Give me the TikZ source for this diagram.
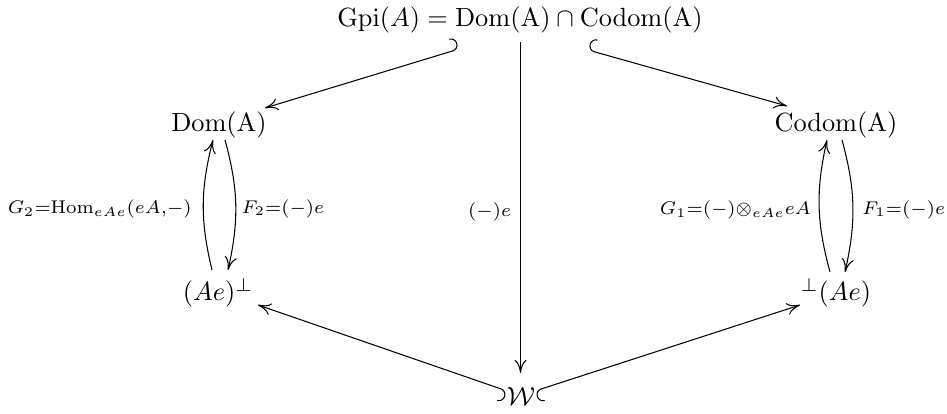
\documentclass[tikz,border=0pt]{standalone}
\usetikzlibrary{arrows.meta}
\begin{document}
\begin{tikzpicture}[x=0.38pt,y=-0.38pt,
  obj/.style={inner sep=0pt, anchor=base},
  tipa/.tip={Computer Modern Rightarrow[length=5pt,width=4.6pt]},
  mor/.style={-tipa},
  hk/.style={{Hooks[right,length=2.4pt,width=9.6pt]}-tipa},
  hkp/.style={{Hooks[left,length=2.4pt,width=9.6pt]}-tipa},
  lbl/.style={inner ysep=0pt, yshift=-1.5pt}]
\useasboundingbox (0,0) rectangle (947,414);
\node[obj] (top) at (520,27) {$\mathrm{Gpi}(A)=\mathrm{Dom(A)}\cap\mathrm{Codom(A)}$};
\node[obj] (dom) at (219,132) {$\mathrm{Dom(A)}$};
\node[obj] (cod) at (836,132) {$\mathrm{Codom(A)}$};
\node[obj] (aep) at (218,301) {$(Ae)^{\perp}$};
\node[obj] (pae) at (836,301) {${}^{\perp}(Ae)$};
\node[obj] (w) at (521,406) {$\mathcal{W}$};
% top arrows
\draw[hkp] ([shift={(-61,22)}]top.base) -- ([shift={(46,-24)}]dom.base);
\draw[hk] ([shift={(68,23)}]top.base) -- ([shift={(-49,-26)}]cod.base);
\draw[mor] ([shift={(0.5,15)}]top.base) -- node[lbl, anchor=east, inner xsep=3.4pt] {$\scriptstyle (-)e$} ([shift={(-0.5,-33)}]w.base);
% left pair
\draw[mor] ([shift={(6,8)}]dom.base) to[bend left=14]
  node[lbl, anchor=west, inner xsep=2pt] {$\scriptstyle F_2=(-)e$} ([shift={(10,-31)}]aep.base);
\draw[mor] ([shift={(-6,-31)}]aep.base) to[bend left=14]
  node[lbl, anchor=east, inner xsep=4.2pt] {$\scriptstyle G_2=\mathrm{Hom}_{eAe}(eA,-)$} ([shift={(-6,8)}]dom.base);
% right pair
\draw[mor] ([shift={(6,8)}]cod.base) to[bend left=14]
  node[lbl, anchor=west, inner xsep=3.4pt] {$\scriptstyle F_1=(-)e$} ([shift={(9,-29)}]pae.base);
\draw[mor] ([shift={(-6,-29)}]pae.base) to[bend left=14]
  node[lbl, anchor=east, inner xsep=3pt] {$\scriptstyle G_1=(-)\otimes_{eAe}eA$} ([shift={(-9,8)}]cod.base);
% bottom arrows
\draw[hk] ([shift={(-14,-15)}]w.base) -- ([shift={(40,4)}]aep.base);
\draw[hkp] ([shift={(14,-15)}]w.base) -- ([shift={(-36,4)}]pae.base);
\end{tikzpicture}
\end{document}
